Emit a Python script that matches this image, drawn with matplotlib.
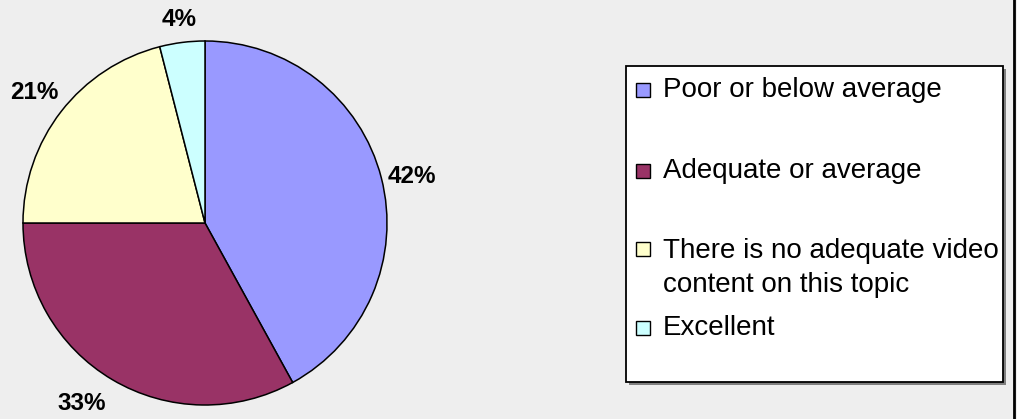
import numpy as np
import matplotlib.pyplot as plt
from matplotlib.patches import Rectangle

categories = [
    "Poor or below average",
    "Adequate or average",
    "There is no adequate video\ncontent on this topic",
    "Excellent",
]
shares = [42, 33, 21, 4]
colors = ["#9999FF", "#993366", "#FFFFCC", "#CCFFFF"]

# percentage label placement: radial distance (radii) and angle shift (deg)
label_dist = [1.17, 1.19, 1.19, 1.14]
label_shift = [-1.1, -4.1, 0.0, 0.0]

W, H = 1017, 419
fig = plt.figure(figsize=(W / 100, H / 100), dpi=100, facecolor="#EEEEEE")

# pie axes: centre (205, 223) px from top, radius 182 px
R = 182
cx, cy = 205, H - 223
half = 1.25 * R
ax = fig.add_axes([(cx - half) / W, (cy - half) / H, 2 * half / W, 2 * half / H])
ax.set_xlim(-1.25, 1.25)
ax.set_ylim(-1.25, 1.25)
ax.set_aspect("equal")
ax.axis("off")

wedges, texts, autotexts = ax.pie(
    shares,
    colors=colors,
    startangle=90,
    counterclock=False,
    autopct="%1.0f%%",
    pctdistance=1.18,
    wedgeprops=dict(edgecolor="black", linewidth=1.1),
    textprops=dict(family="Liberation Sans", fontsize=17.5, fontweight="bold", color="black"),
    frame=False,
)
for w, t, d, s in zip(wedges, autotexts, label_dist, label_shift):
    ang = np.deg2rad((w.theta1 + w.theta2) / 2 + s)
    t.set_position((d * np.cos(ang), d * np.sin(ang)))
    t.set_va("center_baseline")
    t.set_clip_on(False)

def fx(px):
    return px / W

def fy(py):
    return (H - py) / H

# legend box with shadow
box_l, box_t, box_r, box_b = 626, 66, 1003, 382
fig.patches.append(Rectangle((fx(box_l + 3), fy(box_b + 3)), fx(box_r - box_l), (box_b - box_t) / H,
                             transform=fig.transFigure, facecolor="#808080", edgecolor="none"))
fig.patches.append(Rectangle((fx(box_l), fy(box_b)), fx(box_r - box_l), (box_b - box_t) / H,
                             transform=fig.transFigure, facecolor="white", edgecolor="black", linewidth=1.3))

marker_y = [90, 171, 249, 328]
text_y = [90, 171, 268, 328]
for label, color, my, ty in zip(categories, colors, marker_y, text_y):
    fig.patches.append(Rectangle((fx(636), fy(my + 7)), fx(14), 14 / H,
                                 transform=fig.transFigure, facecolor=color,
                                 edgecolor="black", linewidth=1.0))
    fig.text(fx(663), fy(ty), label, family="Liberation Sans", fontsize=20,
             va="center", ha="left", linespacing=1.38)

# right border line
fig.add_artist(plt.Line2D([fx(1014), fx(1014)], [0, 1], color="black", linewidth=2,
                          transform=fig.transFigure))

fig.savefig("out.png", dpi=100, facecolor=fig.get_facecolor())
